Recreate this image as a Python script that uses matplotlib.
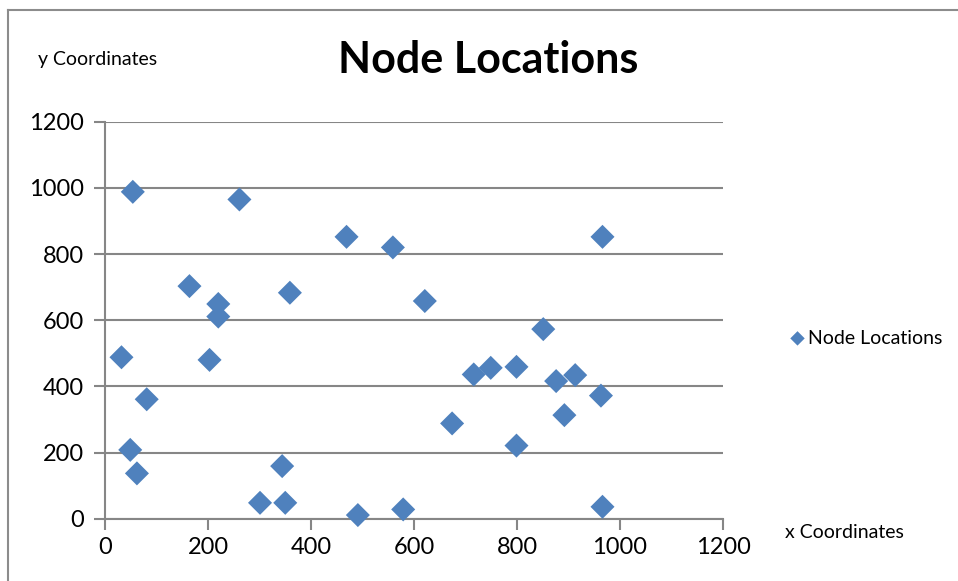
import matplotlib
matplotlib.use("Agg")
import matplotlib.pyplot as plt
from matplotlib.lines import Line2D

plt.rcParams['font.family'] = ['Lato', 'DejaVu Sans']

x_coords = [54, 261, 469, 559, 164, 359, 220, 220, 621, 32, 203, 716, 81, 674, 49, 62,
            344, 301, 350, 491, 579, 966, 851, 749, 799, 876, 913, 963, 892, 799, 966]
y_coords = [988, 965, 852, 820, 703, 683, 649, 611, 658, 488, 480, 436, 361, 288, 208, 137,
            159, 48, 48, 11, 28, 852, 573, 456, 459, 416, 434, 372, 313, 221, 36]
ticks = [0, 200, 400, 600, 800, 1000, 1200]
series_name = "Node Locations"
title = "Node Locations"
xlabel = "x Coordinates"
ylabel = "y Coordinates"

W, H = 958, 581
fig = plt.figure(figsize=(W / 100, H / 100), dpi=100)
ax = fig.add_axes([105 / W, 1 - 518.7 / H, (723 - 105) / W, (518.7 - 121.7) / H])

grid_c = '#868686'
ax.scatter(x_coords, y_coords, marker='D', s=150, color='#4F81BD', edgecolors='none',
           zorder=3, clip_on=False, label=series_name)
ax.set_xlim(0, 1200)
ax.set_ylim(0, 1200)
ax.set_xticks(ticks)
ax.set_yticks(ticks)
ax.set_xticklabels([str(t) for t in ticks])
ax.set_yticklabels([str(t) for t in ticks])
ax.yaxis.grid(True, color=grid_c, linewidth=1.5)
ax.set_axisbelow(True)
for s in ['top', 'right']:
    ax.spines[s].set_visible(False)
for s in ['left', 'bottom']:
    ax.spines[s].set_color(grid_c)
    ax.spines[s].set_linewidth(1.5)
ax.tick_params(axis='both', direction='out', length=8, width=1.5, color=grid_c,
               labelsize=17, labelcolor='black')
ax.tick_params(axis='x', pad=5)
ax.tick_params(axis='y', pad=7)

fig.text(488 / W, 1 - 60 / H, title, ha='center', va='center', fontsize=31,
         fontweight='bold')
fig.text(38 / W, 1 - 60 / H, ylabel, ha='left', va='center', fontsize=14)
fig.text(785 / W, 1 - 533 / H, xlabel, ha='left', va='center', fontsize=14)

leg = fig.legend(loc='center left', bbox_to_anchor=(780 / W, 1 - 338 / H), frameon=False,
                 fontsize=14, handletextpad=0.05, markerscale=0.6, borderaxespad=0,
                 handlelength=1.0)

fig.add_artist(Line2D([8 / W, 8 / W], [0, 1 - 10 / H], color='#8c8c8c', linewidth=1.5,
                      transform=fig.transFigure))
fig.add_artist(Line2D([8 / W, 1], [1 - 10 / H, 1 - 10 / H], color='#8c8c8c', linewidth=1.5,
                      transform=fig.transFigure))

fig.savefig('out.png', dpi=100)
